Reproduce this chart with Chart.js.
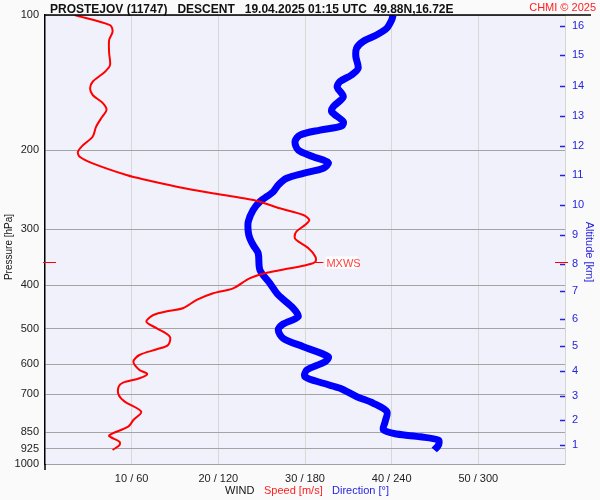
<!DOCTYPE html>
<html>
<head>
  <title>PROSTEJOV descent wind</title>
  <script src="https://cdn.jsdelivr.net/npm/chart.js"></script>
  <style>
    body { margin: 0; background: #fafafa; }
  </style>
</head>
<body>
  <canvas id="windChart" width="600" height="500"></canvas>
  <script>
    // axis ticks
    const pressureTicks = [100, 200, 300, 400, 500, 600, 700, 850, 925, 1000];
    const speedTicks = [10, 20, 30, 40, 50];
    const dirTicks = [60, 120, 180, 240, 300];
    const altitudeKm = [1, 2, 3, 4, 5, 6, 7, 8, 9, 10, 11, 12, 13, 14, 15, 16];
    const altitudePressure = [907, 798, 706, 621, 546, 475, 412, 358, 309, 265, 227, 196, 168, 144, 123, 106];

    // wind speed [m/s] vs pressure [hPa]
    const speedPressure = [100, 105.3, 108.9, 113.7, 121.5, 129.3, 133.9, 140.8, 145.6, 150.7,
      157.3, 162.8, 168.5, 177.3, 186.7, 194.8, 201.6, 206.9, 214.0, 227.2,
      233.1, 241.2, 248.8, 256.0, 260.5, 269.5, 278.9, 286.2, 293.6, 303.8,
      312.2, 317.1, 330.8, 345.4, 354.3, 360.4, 366.5, 374.9, 385.9, 406.2,
      416.7, 431.2, 450.0, 455.6, 465.8, 482.0, 498.6, 520.6, 543.3, 555.3,
      571.8, 591.8, 617.4, 630.3, 644.3, 659.0, 672.7, 701.9, 726.4, 764.6,
      798.0, 825.9, 854.3, 866.2, 891.9, 907.3, 930.8];
    const speed = [3.4, 7.5, 7.8, 7.4, 7.4, 7.5, 6.9, 5.5, 5.2, 5.5,
      6.7, 7.1, 6.6, 5.9, 5.5, 4.4, 3.8, 4.0, 5.5, 9.4,
      11.7, 15.2, 19.0, 22.9, 24.8, 27.1, 29.8, 30.5, 30.0, 29.0,
      28.8, 29.0, 30.4, 31.2, 31.2, 30.2, 28.3, 25.6, 23.6, 21.7,
      19.4, 17.5, 15.9, 14.4, 12.5, 11.7, 12.9, 14.4, 14.2, 12.9,
      10.9, 10.2, 10.9, 11.8, 10.9, 9.0, 8.5, 8.5, 9.2, 11.1,
      10.2, 9.6, 7.8, 7.4, 8.6, 8.6, 7.8];

    // wind direction [deg] vs pressure [hPa]
    const dirPressure = [100, 102.6, 107.1, 110.8, 114.7, 118.6, 123.8, 131.4, 136.0, 140.8,
      144.9, 152.1, 160.0, 164.2, 172.8, 176.7, 180.4, 185.1, 191.5, 199.9,
      206.9, 213.3, 219.5, 225.2, 231.0, 239.1, 247.5, 260.5, 271.9, 288.7,
      303.8, 314.3, 325.3, 339.4, 369.8, 395.9, 420.3, 450.0, 469.8, 487.8,
      503.0, 524.9, 547.9, 576.8, 591.8, 617.4, 639.1, 661.1, 678.3, 708.1,
      732.5, 764.6, 804.8, 839.8, 857.4, 869.8, 884.5, 907.3, 930.8];
    const direction = [241, 240, 236.5, 229.5, 220, 215.7, 215.2, 216.8, 212.2, 204.1,
      202.3, 206.5, 199.6, 198.5, 206.5, 205.4, 190.4, 176.5, 173.1, 175.3,
      185.7, 196.1, 192.7, 178.8, 167.3, 161.5, 158.0, 148.8, 144.1, 140.7,
      140.7, 141.8, 144.1, 147.6, 148.8, 155.7, 161.5, 171.9, 175.3, 164.9,
      161.5, 164.9, 178.8, 196.1, 193.9, 181.2, 180.0, 192.7, 204.3, 215.9,
      227.4, 236.7, 235.5, 234.3, 243.6, 259.8, 272.4, 272.4, 269.5];

    // maximum wind level
    const mxwsPressure = 354;
    const mxwsSpeed = 31.2;

    const FONT = "'Liberation Sans', Arial, sans-serif";
    const BLUE = '#0000ff';
    const LABEL_BLUE = '#2424e0';

    const decorations = {
      id: 'decorations',
      beforeDraw(chart) {
        const { ctx, chartArea: a } = chart;
        ctx.save();
        ctx.fillStyle = '#fafafa';
        ctx.fillRect(0, 0, chart.width, chart.height);
        ctx.fillStyle = '#f1f1fc';
        ctx.fillRect(a.left, a.top, a.right - a.left, a.bottom - a.top);
        ctx.restore();
      },
      afterDraw(chart) {
        const { ctx, chartArea: a, scales } = chart;
        ctx.save();

        // top line + left axis stub + header
        ctx.strokeStyle = '#000';
        ctx.lineWidth = 1.5;
        ctx.beginPath();
        ctx.moveTo(a.left, a.top);
        ctx.lineTo(591, a.top);
        ctx.moveTo(a.left, a.bottom);
        ctx.lineTo(a.left, a.bottom + 6);
        ctx.stroke();

        ctx.textBaseline = 'alphabetic';
        ctx.textAlign = 'left';
        ctx.fillStyle = '#111';
        ctx.font = 'bold 12px ' + FONT;
        ctx.fillText('PROSTEJOV (11747)   DESCENT   19.04.2025 01:15 UTC  49.88N,16.72E', 50, 13);
        ctx.fillStyle = '#ff2020';
        ctx.font = '11px ' + FONT;
        ctx.textAlign = 'right';
        ctx.fillText('CHMI \u00a9 2025', 596, 11);

        // axis titles
        ctx.textAlign = 'center';
        ctx.textBaseline = 'middle';
        ctx.fillStyle = '#111';
        ctx.font = '10px ' + FONT;
        ctx.save();
        ctx.translate(9, 247);
        ctx.rotate(-Math.PI / 2);
        ctx.fillText('Pressure [hPa]', 0, 0);
        ctx.restore();
        ctx.font = '11px ' + FONT;
        ctx.fillStyle = LABEL_BLUE;
        ctx.save();
        ctx.translate(589, 252);
        ctx.rotate(Math.PI / 2);
        ctx.fillText('Altitude [km]', 0, 0);
        ctx.restore();

        // bottom legend
        ctx.textAlign = 'left';
        ctx.fillStyle = '#111';
        ctx.fillText('WIND', 225, 491);
        ctx.fillStyle = '#ff2020';
        ctx.fillText('Speed [m/s]', 264, 491);
        ctx.fillStyle = LABEL_BLUE;
        ctx.fillText('Direction [\u00b0]', 332, 491);

        // altitude tick marks
        const yk = scales.yk;
        ctx.strokeStyle = LABEL_BLUE;
        ctx.lineWidth = 1.5;
        altitudePressure.forEach(p => {
          const y = Math.round(yk.getPixelForValue(p)) + 0.5;
          ctx.beginPath();
          ctx.moveTo(a.right - 5, y);
          ctx.lineTo(a.right, y);
          ctx.stroke();
        });

        // MXWS marks
        const my = Math.round(scales.y.getPixelForValue(mxwsPressure)) + 0.5;
        const mx = scales.x.getPixelForValue(mxwsSpeed);
        ctx.strokeStyle = '#ff0000';
        ctx.lineWidth = 1;
        ctx.beginPath();
        ctx.moveTo(a.left - 2, my); ctx.lineTo(a.left + 11, my);
        ctx.moveTo(a.right - 10, my); ctx.lineTo(a.right + 3, my);
        ctx.moveTo(mx, my); ctx.lineTo(mx + 8, my);
        ctx.stroke();
        ctx.fillStyle = '#ffffff';
        ctx.fillRect(mx + 10, my - 6, 32, 12);
        ctx.fillStyle = '#ff4040';
        ctx.textAlign = 'left';
        ctx.fillText('MXWS', mx + 11, my + 1);

        ctx.restore();
      }
    };

    new Chart(document.getElementById('windChart'), {
      type: 'scatter',
      data: {
        datasets: [
          {
            label: 'Speed [m/s]',
            data: speedPressure.map((p, i) => ({ x: speed[i], y: p })),
            xAxisID: 'x', yAxisID: 'y',
            showLine: true, borderColor: '#ff0000', borderWidth: 2,
            pointRadius: 0, tension: 0.3, order: 0
          },
          {
            label: 'Direction [°]',
            data: dirPressure.map((p, i) => ({ x: direction[i], y: p })),
            xAxisID: 'xd', yAxisID: 'y',
            showLine: true, borderColor: BLUE, borderWidth: 7,
            pointRadius: 0, tension: 0.3, order: 1
          }
        ]
      },
      options: {
        responsive: false,
        animation: false,
        layout: { padding: { top: 15, left: 0, right: 0, bottom: 0 } },
        plugins: { legend: { display: false }, title: { display: false }, tooltip: { enabled: false } },
        scales: {
          x: {
            type: 'linear', position: 'bottom', min: 0, max: 60,
            afterBuildTicks: s => { s.ticks = speedTicks.map(v => ({ value: v })); },
            afterFit: s => { s.height = 36; },
            grid: { color: '#d8d8d8', drawTicks: false },
            border: { color: '#a0a0a0' },
            ticks: {
              callback: (v, i) => v + ' / ' + dirTicks[i],
              font: { family: FONT, size: 11 }, color: '#222', padding: 8,
              maxRotation: 0, autoSkip: false
            }
          },
          xd: { type: 'linear', min: 0, max: 360, display: false },
          y: {
            type: 'logarithmic', position: 'left', reverse: true, min: 100, max: 1000,
            afterBuildTicks: s => { s.ticks = pressureTicks.map(v => ({ value: v })); },
            afterFit: s => { s.width = 45; },
            grid: { color: '#a4a4a4', drawTicks: false },
            border: { color: '#000', width: 1.5 },
            ticks: {
              callback: v => String(v),
              font: { family: FONT, size: 11 }, color: '#222', padding: 6, autoSkip: false
            }
          },
          yk: {
            type: 'logarithmic', position: 'right', reverse: true, min: 100, max: 1000,
            afterBuildTicks: s => { s.ticks = altitudePressure.map(v => ({ value: v })); },
            afterFit: s => { s.width = 35; },
            grid: { drawOnChartArea: false, drawTicks: false },
            border: { color: '#d4d4d4' },
            ticks: {
              callback: (v, i) => String(altitudeKm[i]),
              font: { family: FONT, size: 11 }, color: LABEL_BLUE, padding: 7, autoSkip: false
            }
          }
        }
      },
      plugins: [decorations]
    });
  </script>
</body>
</html>
